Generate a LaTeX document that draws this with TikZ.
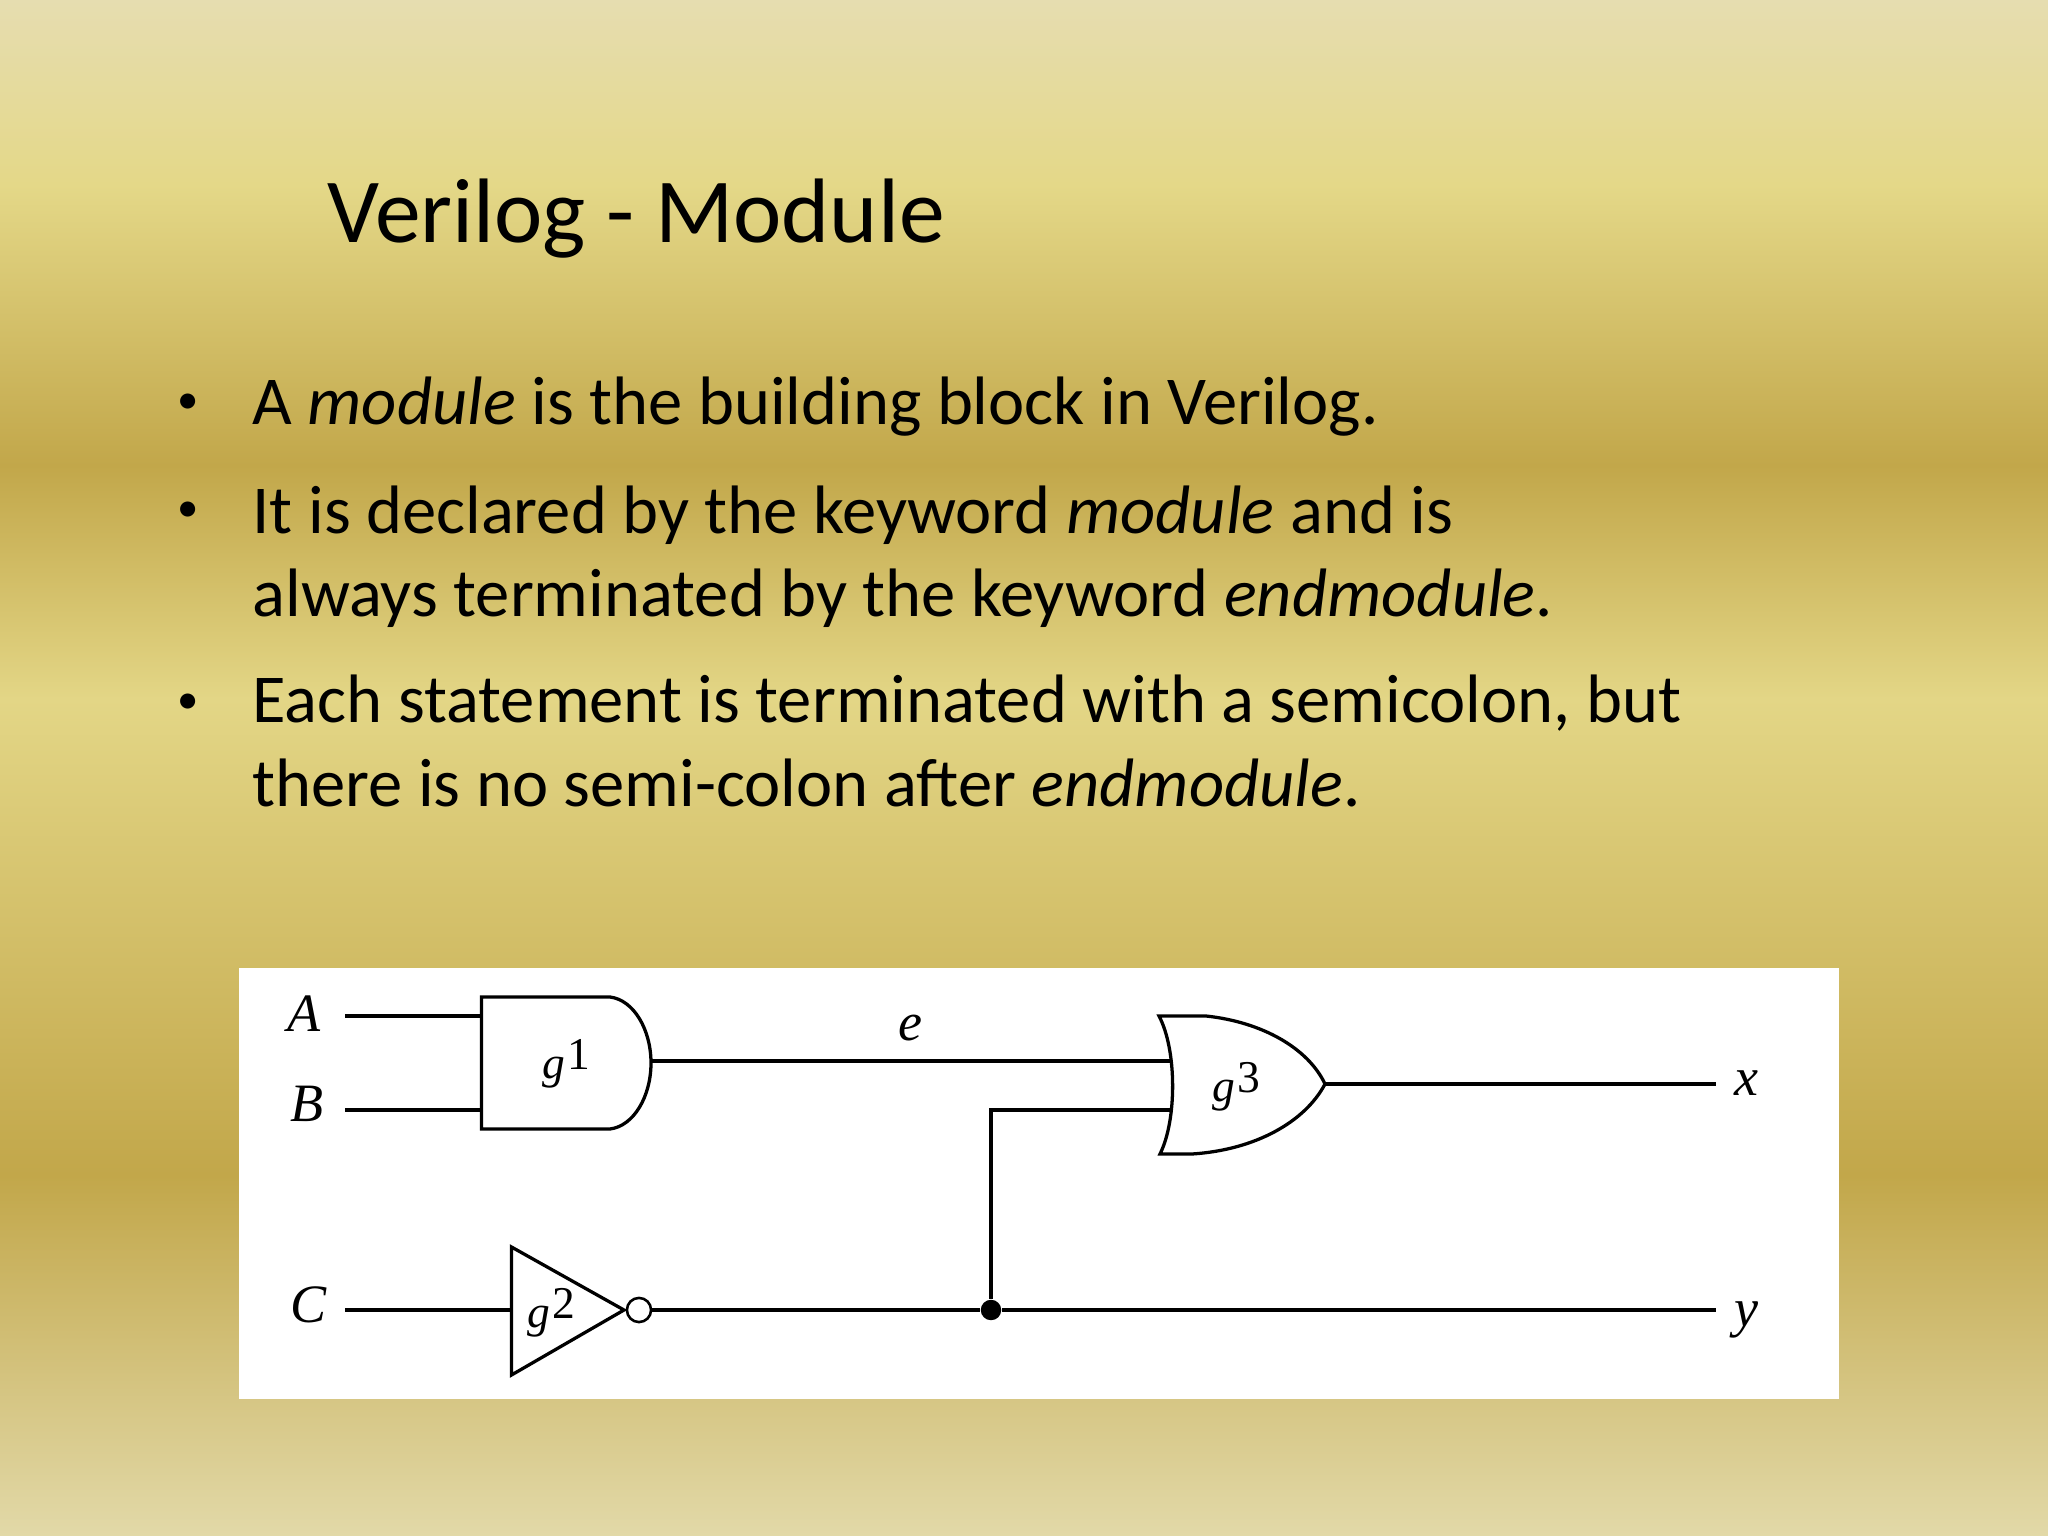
\documentclass[tikz,border=0pt]{standalone}
\usepackage{fontspec}
\setmainfont{Carlito}
\newfontfamily\gatefont{Liberation Serif}
\definecolor{bgA}{HTML}{E6DDB0}
\definecolor{bgB}{HTML}{E4D888}
\definecolor{bgC}{HTML}{E3D686}
\definecolor{bgD}{HTML}{C2A74A}
\definecolor{bgF}{HTML}{E2D9A8}
\pgfdeclareverticalshading{slidebg}{100bp}{%
  color(0bp)=(bgF);
  color(25bp)=(bgF);
  color(36.75bp)=(bgD);
  color(52.25bp)=(bgC);
  color(59.85bp)=(bgD);
  color(69bp)=(bgB);
  color(75bp)=(bgA);
  color(100bp)=(bgA)}
\tikzset{
  wire/.style={line width=1.15pt},
  gate/.style={line width=1.15pt,line join=miter},
  title/.style={anchor=base west,inner sep=0pt,font=\fontsize{32.2}{38}\selectfont},
  body/.style={anchor=base west,inner sep=0pt,font=\fontsize{24.1}{29}\selectfont},
  mark bullet/.style={anchor=base,inner sep=0pt,font=\fontsize{15}{18}\selectfont},
  sig/.style={anchor=base,inner sep=0pt,font=\gatefont\itshape\fontsize{19}{22}\selectfont},
  gatename/.style={anchor=base west,inner sep=0pt,font=\gatefont\fontsize{16}{18}\selectfont},
  bubble/.style={circle,draw,line width=.9pt,fill=white,inner sep=0pt,minimum size=8.5pt},
  junction/.style={circle,fill=black,inner sep=0pt,minimum size=7.2pt},
}
\newcommand{\gname}[1]{\textit{g}\kern.8pt\raisebox{3pt}{#1}}
\begin{document}
\begin{tikzpicture}[x=0.3515625pt,y=-0.3515625pt]
  \useasboundingbox (0,0) rectangle (2048,1536);
  \shade[shading=slidebg] (0,0) rectangle (2048,1536);
  \node[title] (head) at (327,243) {Verilog - Module};
  \foreach \n/\y/\txt in {
    one/425/{A \textit{module} is the building block in Verilog.},
    two/534/{It is declared by the keyword \textit{module} and is},
    twob/617/{always terminated by the keyword \textit{endmodule}.},
    three/723/{Each statement is terminated with a semicolon, but},
    threeb/806/{there is no semi-colon after \textit{endmodule}.}}
    \node[body] (\n) at (252,\y) {\txt};
  \foreach \n/\y in {one/414,two/522,three/713}
    \node[mark bullet] (dot\n) at (188,\y) {\textbullet};
  \fill[white] (239,968) rectangle (1839,1399);
  \node[sig] (labA) at (304,1031) {A};
  \node[sig] (labB) at (307,1121) {B};
  \node[sig] (labC) at (309,1322) {C};
  \node[sig] (labe) at (910,1040) {e};
  \node[sig] (labx) at (1746,1095) {x};
  \node[sig] (laby) at (1746,1326) {y};
  \draw[gate] (481.5,997) -- (610,997) .. controls (634,1000) and (651,1030) .. (651,1063)
    .. controls (651,1096) and (634,1126) .. (610,1129) -- (481.5,1129) -- cycle;
  \draw[gate] (511.5,1247) -- (624,1310) -- (511.5,1375) -- cycle;
  \draw[gate] (1159,1016) -- (1206,1016) .. controls (1262,1022) and (1308,1048) .. (1325,1084)
    .. controls (1305,1122) and (1255,1150) .. (1192,1154) -- (1160,1154)
    .. controls (1177,1120) and (1177,1050) .. cycle;
  \node[gatename] (g1) at (542,1078) {\gname{1}};
  \node[gatename] (g2) at (527,1327) {\gname{2}};
  \node[gatename] (g3) at (1212,1101) {\gname{3}};
  \coordinate (inA) at (345,1016);
  \coordinate (inB) at (345,1110);
  \coordinate (inC) at (345,1310);
  \coordinate (andA) at (481.5,1016);
  \coordinate (andB) at (481.5,1110);
  \coordinate (andY) at (651,1061);
  \coordinate (invA) at (511.5,1310);
  \coordinate (orA) at (1170,1061);
  \coordinate (orB) at (1170,1110);
  \coordinate (orY) at (1325,1084);
  \coordinate (outx) at (1716,1084);
  \coordinate (outy) at (1716,1310);
  \node[bubble] (inv) at (639,1310) {};
  \node[junction] (tap) at (991,1310) {};
  \draw[wire] (inA) -- (andA);
  \draw[wire] (inB) -- (andB);
  \draw[wire] (inC) -- (invA);
  \draw[wire] (andY) -- (orA);
  \draw[wire] (tap) |- (orB);
  \draw[wire] (orY) -- (outx);
  \draw[wire] (inv) -- (tap) -- (outy);
\end{tikzpicture}
\end{document}
